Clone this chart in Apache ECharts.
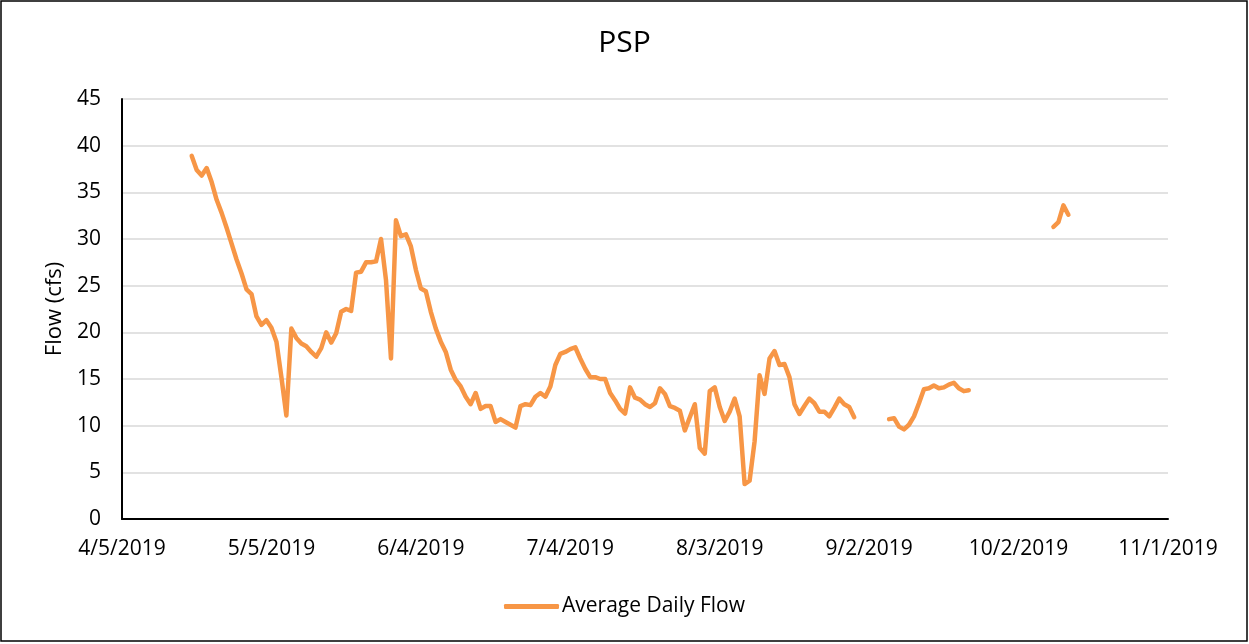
<!DOCTYPE html>
<html>
<head>
<meta charset="utf-8">
<script src="https://cdn.jsdelivr.net/npm/echarts@6/dist/echarts.min.js"></script>
<style>
  html, body { margin: 0; padding: 0; background: #fff; }
  #main { width: 1249px; height: 644px; }
</style>
</head>
<body>
<div id="main"></div>
<script>
// day 0 of the x axis is 4/5/2019, ticks every 30 days up to 11/1/2019
var axisStart = Date.UTC(2019, 3, 5);
var tickDays = 30;
var axisDays = 210;
var yTicks = [0, 5, 10, 15, 20, 25, 30, 35, 40, 45];

// daily average flow (cfs), one value per day, broken into runs where data exists
var run1Start = '2019-04-19';
var run1Values = [
  38.9, 37.4, 36.8, 37.6, 36.1, 34.2, 32.8, 31.2, 29.5, 27.8,
  26.3, 24.6, 24.1, 21.7, 20.8, 21.3, 20.5, 19.0, 15.2, 11.1,
  20.4, 19.4, 18.8, 18.5, 17.9, 17.4, 18.3, 20.0, 18.9, 19.9,
  22.2, 22.5, 22.3, 26.4, 26.5, 27.5, 27.5, 27.6, 30.0, 25.6,
  17.2, 32.0, 30.3, 30.5, 29.2, 26.7, 24.7, 24.4, 22.2, 20.4,
  19.0, 17.9, 16.0, 14.9, 14.2, 13.1, 12.3, 13.5, 11.8, 12.1,
  12.1, 10.4, 10.7, 10.4, 10.1, 9.8, 12.1, 12.3, 12.2, 13.1,
  13.5, 13.1, 14.2, 16.5, 17.7, 17.9, 18.2, 18.4, 17.2, 16.1,
  15.2, 15.2, 15.0, 15.0, 13.5, 12.7, 11.8, 11.3, 14.1, 13.0,
  12.8, 12.3, 12.0, 12.4, 14.0, 13.4, 12.1, 11.9, 11.6, 9.5,
  10.9, 12.3, 7.6, 7.0, 13.7, 14.1, 12.0, 10.5, 11.5, 12.9,
  11.0, 3.75, 4.1, 8.3, 15.4, 13.4, 17.2, 18.0, 16.5, 16.6,
  15.2, 12.3, 11.25, 12.1, 12.9, 12.4, 11.5, 11.5, 11.0, 11.9,
  12.9, 12.3, 12.0, 10.9
];
var run2Start = '2019-09-06';
var run2Values = [
  10.7, 10.8, 9.9, 9.6, 10.1, 11.0, 12.4, 13.9, 14.0, 14.3,
  14.0, 14.1, 14.4, 14.6, 14.0, 13.7, 13.8
];
var run3Start = '2019-10-09';
var run3Values = [31.3, 31.8, 33.6, 32.6];

function dayOf(s) {
  var p = s.split('-');
  return Math.round((Date.UTC(+p[0], +p[1] - 1, +p[2]) - axisStart) / 86400000);
}
function dateLabel(d) {
  var dt = new Date(axisStart + d * 86400000);
  return (dt.getUTCMonth() + 1) + '/' + dt.getUTCDate() + '/' + dt.getUTCFullYear();
}

var runs = [[run1Start, run1Values], [run2Start, run2Values], [run3Start, run3Values]];
var flowData = [];
runs.forEach(function(r, k) {
  var s = dayOf(r[0]);
  r[1].forEach(function(v, i) { flowData.push([s + i, v]); });
  if (k < runs.length - 1) flowData.push([s + r[1].length, null]);
});

var font = "'Open Sans', 'Liberation Sans', sans-serif";
var myChart = echarts.init(document.getElementById('main'));
var option = {
  animation: false,
  backgroundColor: '#fff',
  graphic: [{
    type: 'rect',
    shape: { x: 1, y: 1, width: 1246, height: 640 },
    style: { fill: 'none', stroke: '#000', lineWidth: 1.5 },
    silent: true
  }],
  title: {
    text: 'PSP',
    left: 'center',
    top: 23,
    textStyle: { fontFamily: font, fontSize: 30, fontWeight: 'normal', color: '#000' }
  },
  grid: { left: 122, right: 81, top: 99, bottom: 125 },
  legend: {
    left: 'center',
    top: 591,
    icon: 'roundRect',
    itemWidth: 55,
    itemHeight: 5,
    itemGap: 10,
    textStyle: { fontFamily: font, fontSize: 21, color: '#000', padding: [0, 0, 0, -2] },
    data: ['Average Daily Flow']
  },
  xAxis: {
    type: 'value',
    min: 0,
    max: axisDays,
    interval: tickDays,
    axisLine: { show: true, lineStyle: { color: '#000', width: 2 } },
    axisTick: { show: false },
    splitLine: { show: false },
    axisLabel: {
      margin: 20,
      fontFamily: font,
      fontSize: 21,
      color: '#000',
      formatter: function(v) { return dateLabel(v); }
    }
  },
  yAxis: {
    type: 'value',
    min: yTicks[0],
    max: yTicks[yTicks.length - 1],
    interval: 5,
    name: 'Flow (cfs)',
    nameLocation: 'middle',
    nameGap: 56,
    nameTextStyle: { fontFamily: font, fontSize: 22, color: '#000' },
    axisLine: { show: true, lineStyle: { color: '#000', width: 2 } },
    axisTick: { show: false },
    splitLine: { show: true, lineStyle: { color: '#d9d9d9', width: 1.5 } },
    axisLabel: { margin: 21, fontFamily: font, fontSize: 21, color: '#000' }
  },
  series: [{
    name: 'Average Daily Flow',
    type: 'line',
    data: flowData,
    connectNulls: false,
    showSymbol: false,
    symbol: 'none',
    lineStyle: { color: '#f79646', width: 4.5, join: 'round', cap: 'round' },
    itemStyle: { color: '#f79646' }
  }]
};
myChart.setOption(option);
window.addEventListener('resize', function() {
  myChart.resize();
});
</script>
</body>
</html>
